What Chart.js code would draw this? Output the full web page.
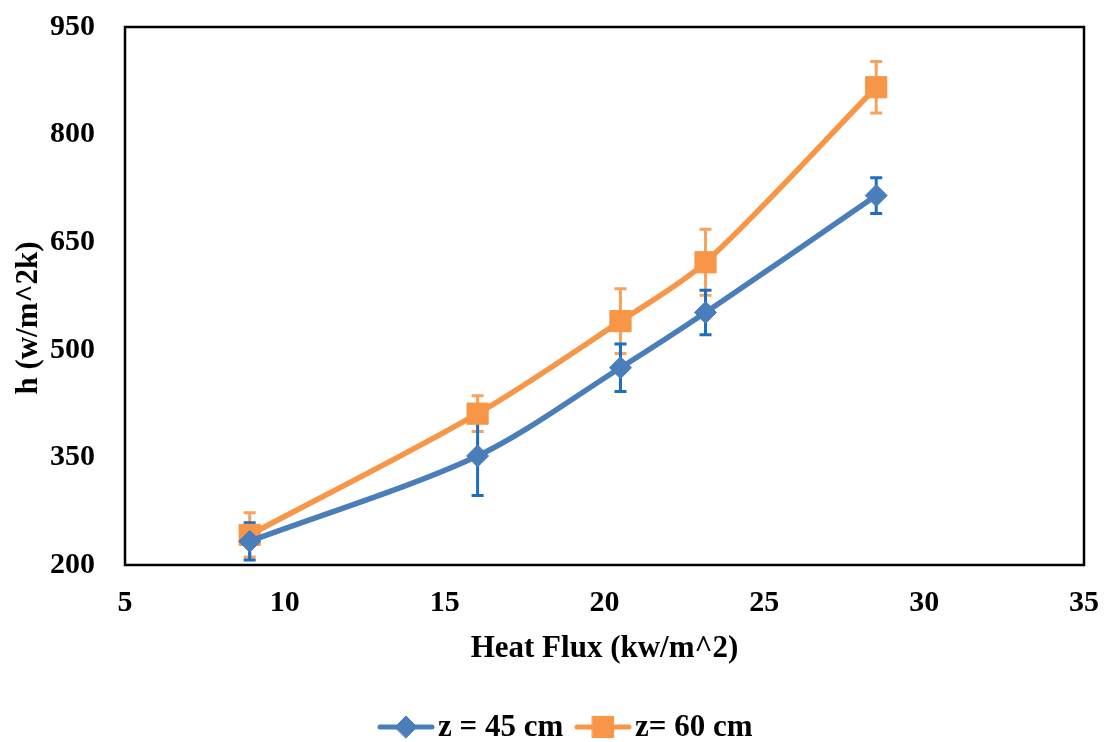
<!DOCTYPE html>
<html>
<head>
<meta charset="utf-8">
<script src="https://cdn.jsdelivr.net/npm/chart.js@4/dist/chart.umd.min.js"></script>
<style>
  html, body { margin: 0; padding: 0; background: #fff; }
  #wrap { width: 1106px; height: 742px; position: relative; }
</style>
</head>
<body>
<div id="wrap"><canvas id="c" width="1106" height="742"></canvas></div>
<script>
// ---- data ----
const heatFlux = [8.9, 16.03, 20.5, 23.16, 28.5];
const h45 = [233, 352, 475, 552, 715];
const h45Err = [26, 55, 33, 31, 25];
const h60 = [242, 411, 540, 622, 866];
const h60Err = [31, 25, 45, 46, 36];
const seriesNames = ['z = 45 cm', 'z= 60 cm'];
const xTitle = 'Heat Flux (kw/m^2)';
const yTitle = 'h (w/m^2k)';

const FONT = "'Liberation Serif', 'Times New Roman', serif";
const BLUE = '#4A7EBB', BLUE_ERR = '#1B6EC2';
const ORANGE = '#F79646', ORANGE_ERR = '#F8A25E';

function pts(xs, ys) { return xs.map((x, i) => ({ x: x, y: ys[i] })); }

const errorBars = {
  id: 'errorBars',
  beforeDatasetsDraw(chart) {
    const { ctx, scales: { x, y } } = chart;
    const sets = [[h60, h60Err, ORANGE_ERR], [h45, h45Err, BLUE_ERR]];
    ctx.save();
    ctx.lineWidth = 3;
    sets.forEach(([vals, errs, col]) => {
      ctx.strokeStyle = col;
      vals.forEach((v, i) => {
        const px = x.getPixelForValue(heatFlux[i]);
        const top = y.getPixelForValue(v + errs[i]);
        const bot = y.getPixelForValue(v - errs[i]);
        ctx.beginPath();
        ctx.moveTo(px, top); ctx.lineTo(px, bot);
        ctx.moveTo(px - 6, top); ctx.lineTo(px + 6, top);
        ctx.moveTo(px - 6, bot); ctx.lineTo(px + 6, bot);
        ctx.stroke();
      });
    });
    ctx.restore();
  }
};

const frameAndText = {
  id: 'frameAndText',
  afterDraw(chart) {
    const { ctx, chartArea: a } = chart;
    ctx.save();
    ctx.strokeStyle = '#000';
    ctx.lineWidth = 2.5;
    ctx.strokeRect(a.left, a.top, a.right - a.left, a.bottom - a.top);
    // y title
    ctx.fillStyle = '#000';
    ctx.font = "bold 31px " + FONT;
    ctx.textAlign = 'center';
    ctx.textBaseline = 'middle';
    ctx.translate(29, 318);
    ctx.rotate(-Math.PI / 2);
    ctx.fillText(yTitle, 0, 0);
    ctx.restore();
    // legend
    ctx.save();
    ctx.font = "bold 31px " + FONT;
    ctx.textBaseline = 'middle';
    ctx.textAlign = 'left';
    const ly = 727;
    const items = [
      { x0: 380, col: BLUE, style: 'rectRot', r: 11, name: seriesNames[0] },
      { x0: 577, col: ORANGE, style: 'rect', r: 15, name: seriesNames[1] }
    ];
    items.forEach(it => {
      ctx.strokeStyle = it.col;
      ctx.lineWidth = 5;
      ctx.lineCap = 'round';
      ctx.beginPath();
      ctx.moveTo(it.x0, ly); ctx.lineTo(it.x0 + 52, ly);
      ctx.stroke();
      ctx.fillStyle = it.col;
      ctx.lineWidth = 1;
      Chart.helpers.drawPoint(ctx, { pointStyle: it.style, radius: it.r, borderWidth: 1, rotation: 0 }, it.x0 + 26, ly);
      ctx.fillStyle = '#000';
      ctx.fillText(it.name, it.x0 + 58, ly + 1);
    });
    ctx.restore();
  }
};

new Chart(document.getElementById('c'), {
  type: 'line',
  data: {
    datasets: [
      {
        label: seriesNames[0],
        data: pts(heatFlux, h45),
        borderColor: BLUE,
        backgroundColor: BLUE,
        borderWidth: 5.5,
        pointStyle: 'rectRot',
        pointRadius: 11,
        pointBorderWidth: 1,
        pointBackgroundColor: BLUE,
        pointBorderColor: BLUE,
        tension: 0.3
      },
      {
        label: seriesNames[1],
        data: pts(heatFlux, h60),
        borderColor: ORANGE,
        backgroundColor: ORANGE,
        borderWidth: 5.5,
        pointStyle: 'rect',
        pointRadius: 15,
        pointBorderWidth: 1,
        pointBackgroundColor: ORANGE,
        pointBorderColor: ORANGE,
        tension: 0.3
      }
    ]
  },
  options: {
    responsive: false,
    animation: false,
    layout: { padding: { top: 27, right: 22, left: 0, bottom: 0 } },
    plugins: { legend: { display: false }, tooltip: { enabled: false } },
    scales: {
      x: {
        type: 'linear',
        min: 5, max: 35,
        grid: { display: false, drawTicks: false },
        border: { display: false },
        ticks: { stepSize: 5, color: '#000', padding: 20, font: { family: FONT, size: 30, weight: 'bold' } },
        title: { display: true, text: xTitle, color: '#000', padding: { top: 0, bottom: 74 }, font: { family: FONT, size: 31, weight: 'bold' } },
        afterFit(s) { s.height = 177; s.paddingLeft = 0; s.paddingRight = 0; }
      },
      y: {
        min: 200, max: 950,
        grid: { display: false, drawTicks: false },
        border: { display: false },
        ticks: { stepSize: 150, color: '#000', padding: 30, font: { family: FONT, size: 30, weight: 'bold' } },
        afterFit(s) { s.width = 125; s.paddingTop = 0; s.paddingBottom = 0; }
      }
    }
  },
  plugins: [errorBars, frameAndText]
});
</script>
</body>
</html>
